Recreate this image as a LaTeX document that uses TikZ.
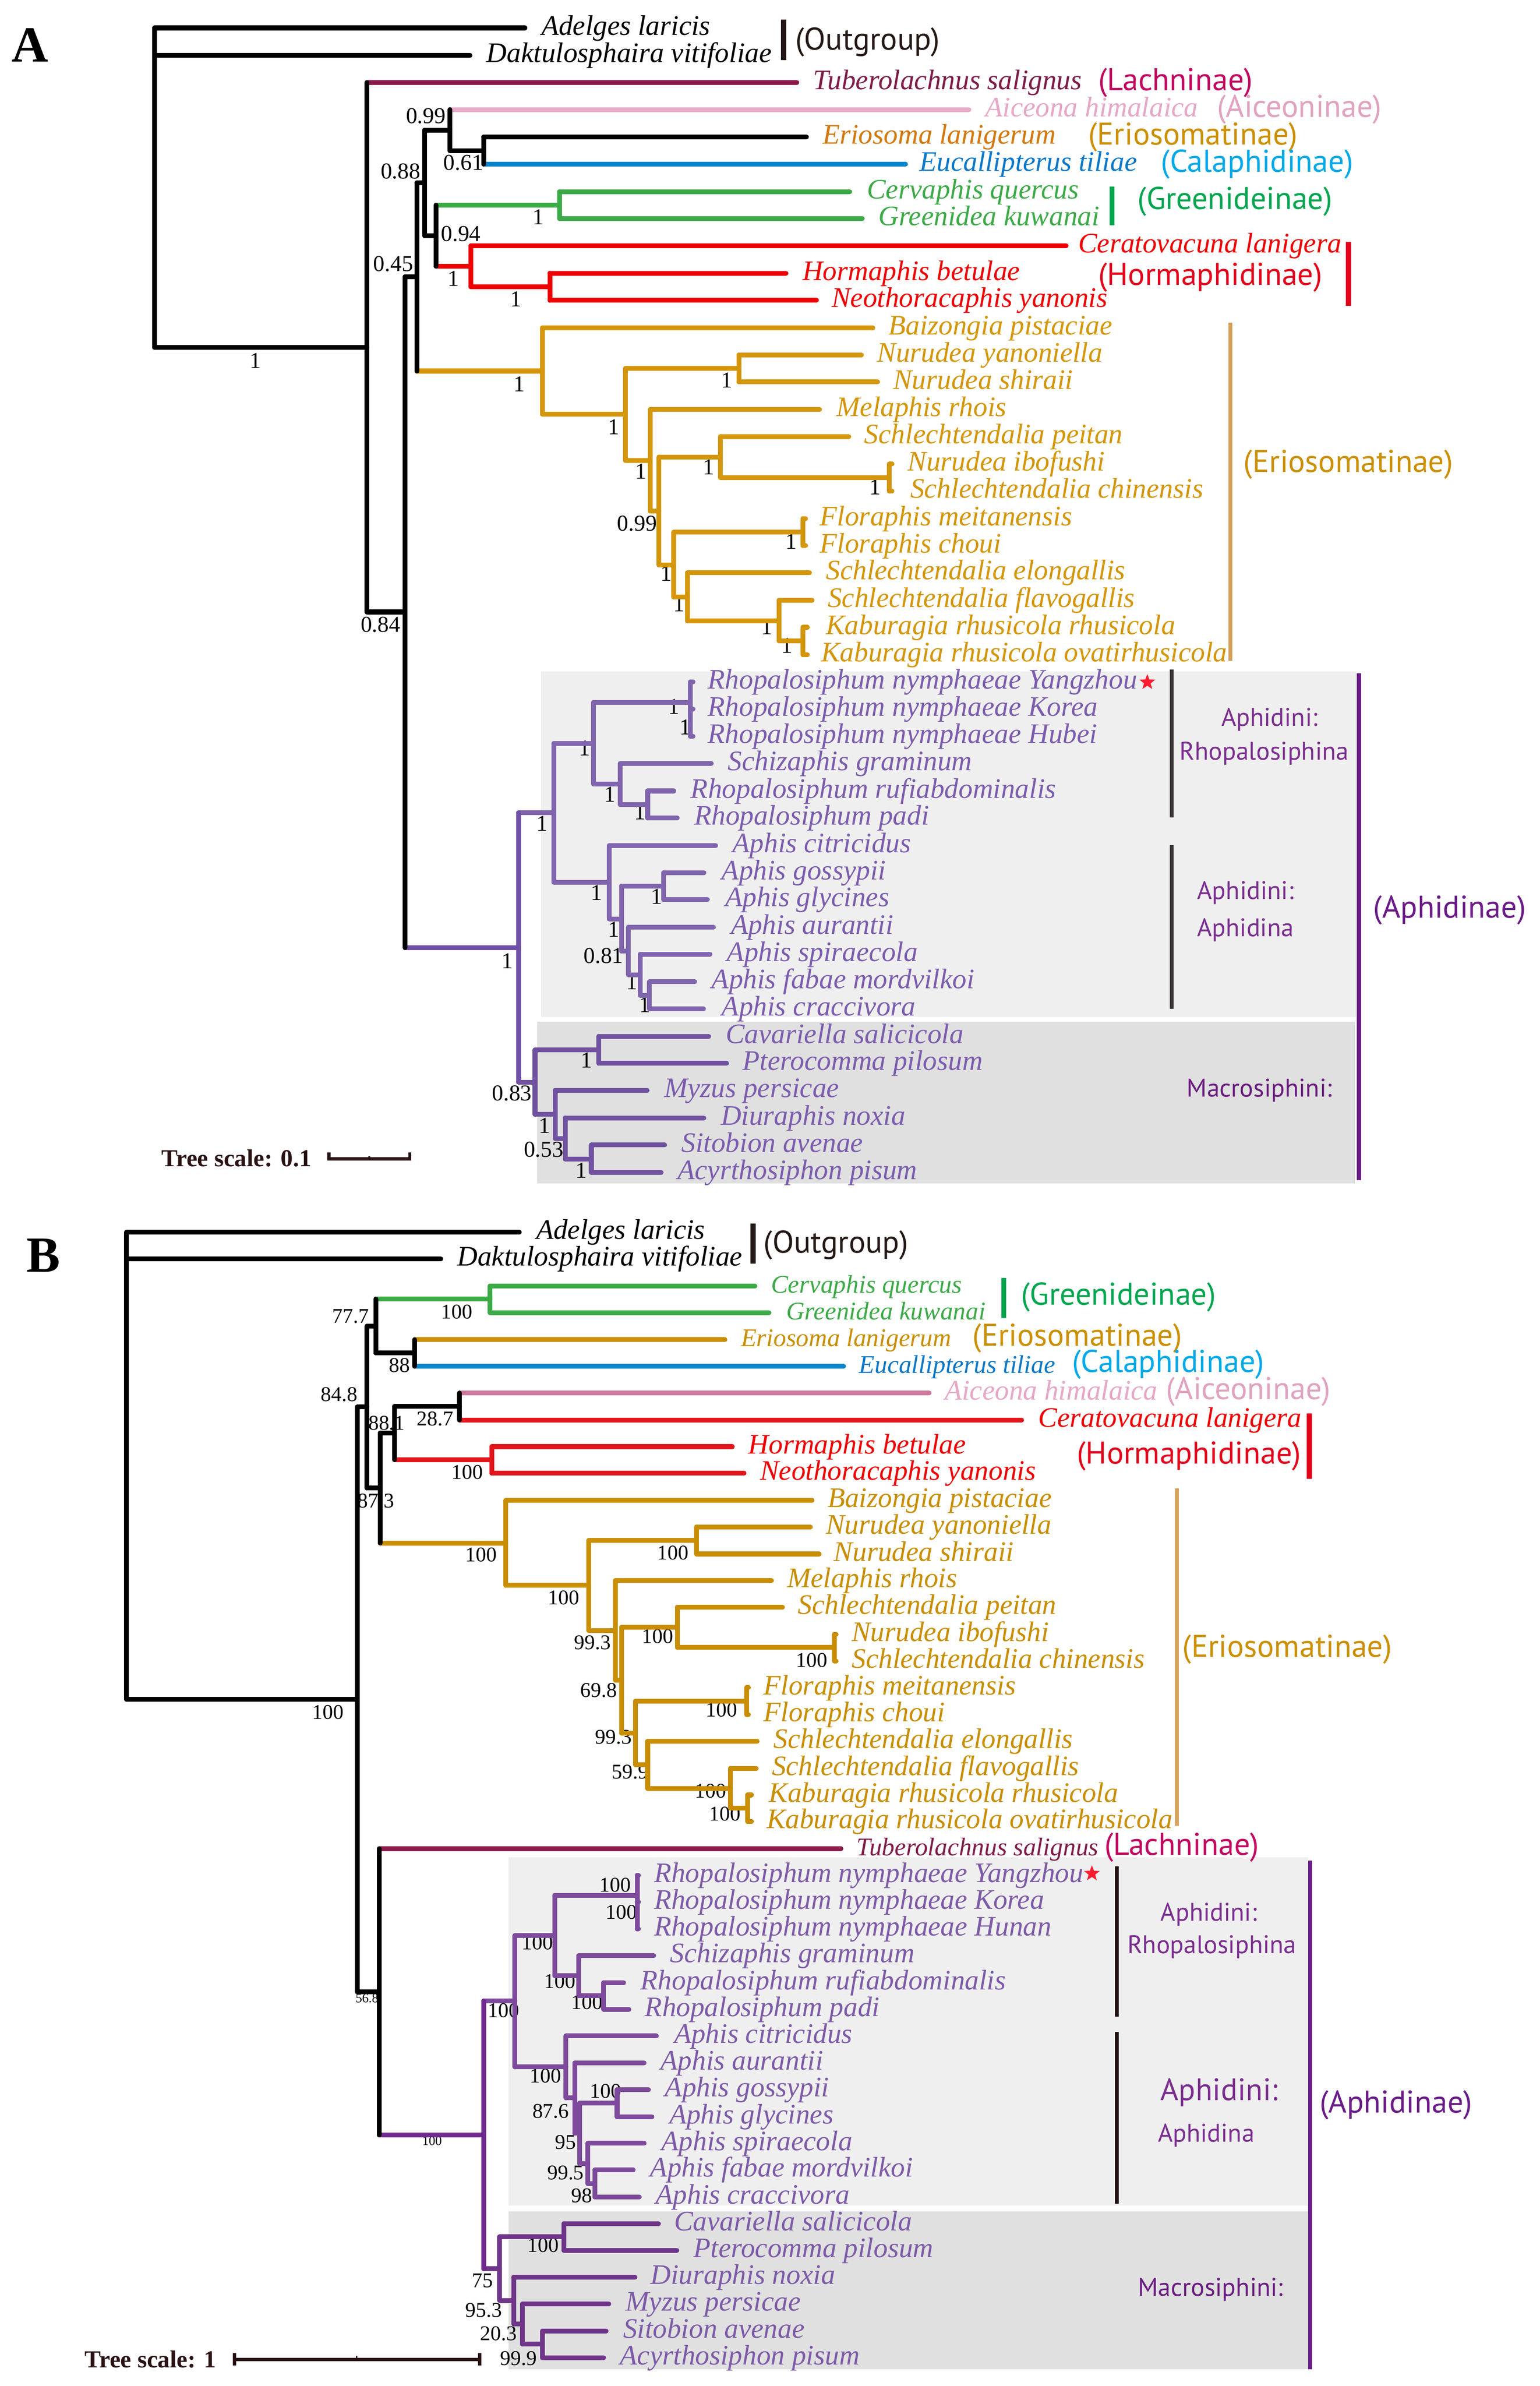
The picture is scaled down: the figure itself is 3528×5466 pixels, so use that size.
\documentclass[tikz,border=0pt]{standalone}
\usepackage{fontspec}
\setmainfont{Liberation Serif}
\newfontfamily\labfont{PT Sans}
\usetikzlibrary{shapes.geometric}
\definecolor{cOut}{HTML}{231815}
\definecolor{cLach}{HTML}{8A1A4A}
\definecolor{cLachT}{HTML}{7E1C48}
\definecolor{cLachL}{HTML}{C1075F}
\definecolor{cAicA}{HTML}{E7ABC6}
\definecolor{cAicB}{HTML}{CC7A9E}
\definecolor{cAicT}{HTML}{E6A8C6}
\definecolor{cAicL}{HTML}{E0A3BF}
\definecolor{cEriA}{HTML}{D4960A}
\definecolor{cEriB}{HTML}{C98E00}
\definecolor{cEriT}{HTML}{D4780C}
\definecolor{cEriL}{HTML}{CC8F00}
\definecolor{cEriBar}{HTML}{D6A05A}
\definecolor{cCal}{HTML}{0A85CC}
\definecolor{cCalT}{HTML}{0A78C8}
\definecolor{cCalL}{HTML}{00A9E8}
\definecolor{cGre}{HTML}{3DAA48}
\definecolor{cGreL}{HTML}{00A64F}
\definecolor{cHor}{HTML}{EE0000}
\definecolor{cHorB}{HTML}{E3161D}
\definecolor{cHorL}{HTML}{E3001B}
\definecolor{cAphA}{HTML}{7150A8}
\definecolor{cAphA2}{HTML}{8064AE}
\definecolor{cAphA3}{HTML}{7052A0}
\definecolor{cAphB}{HTML}{70298F}
\definecolor{cAphB2}{HTML}{7E4A9C}
\definecolor{cAphB3}{HTML}{6E3589}
\definecolor{cAphT}{HTML}{7B5CAE}
\definecolor{cAphTB}{HTML}{7D5AA8}
\definecolor{cTribe}{HTML}{7B2D90}
\definecolor{cMacro}{HTML}{6A1A80}
\definecolor{cAphL}{HTML}{6A1B87}
\definecolor{cSub}{HTML}{3D3535}
\definecolor{cSubB}{HTML}{201010}
\definecolor{boxL}{HTML}{EFEFEF}
\definecolor{boxD}{HTML}{E0E0E0}
\definecolor{cStar}{HTML}{FF1A2E}
\definecolor{cScale}{HTML}{2A1212}
% two-child node: vertical colour, child colours, parent, child1, child2
\newcommand{\Tn}[6]{%
  \draw[br,#2] (#4 |- #5) -- (#5);
  \draw[br,#3] (#4 |- #6) -- (#6);
  \draw[br,#1] (#4 |- #5) -- (#4 |- #6);}
\newcommand{\Sp}[5]{\node[sp,text=#2] (#1) at (#3,#4) {#5};}
\newcommand{\Ss}[5]{\node[sp,spsmall,text=#2] (#1) at (#3,#4) {#5};}
\newcommand{\Su}[4]{\node[supA] (#1) at (#2,#3) {#4};}
\newcommand{\Sb}[4]{\node[supB] (#1) at (#2,#3) {#4};}
\begin{document}
\begin{tikzpicture}[x=0.25pt,y=-0.25pt,
  br/.style={line width=2.75pt,line cap=round},
  sp/.style={anchor=mid west,inner sep=0pt,yshift=-1.2pt,font=\itshape\fontsize{16.2}{19}\selectfont},
  spsmall/.style={font=\itshape\fontsize{14.6}{17}\selectfont},
  supA/.style={inner sep=0pt,font=\fontsize{13}{13}\selectfont},
  supB/.style={inner sep=0pt,font=\fontsize{12}{12}\selectfont},
  supS/.style={inner sep=0pt,font=\fontsize{7.5}{7.5}\selectfont},
  grp/.style={anchor=west,inner sep=0pt,font=\labfont\fontsize{18}{18}\selectfont},
  tribe/.style={inner sep=0pt,font=\labfont\fontsize{14.6}{15}\selectfont},
  gbar/.style={line width=2.6pt},
  sbar/.style={line width=2pt},
  scl/.style={line width=1.8pt,draw=cScale},
  starmark/.style={shape=star,star points=5,star point ratio=2.4,fill=cStar,draw=none,inner sep=0pt,minimum size=9.5pt}]
\useasboundingbox (0,0) rectangle (3528,5466);
\fill[white] (0,0) rectangle (3528,5466);

% ================= PANEL A =================
\node[inner sep=0pt,font=\bfseries\fontsize{29}{29}\selectfont] (labA) at (69,103) {A};
\fill[boxL] (1240,1538) rectangle (3108,2330);
\fill[boxD] (1231,2340) rectangle (3105,2711);

% support values A
\Su{a1}{976}{266}{0.99}
\Su{a2}{1062}{373}{0.61}
\Su{a3}{918}{393}{0.88}
\Su{a4}{1056}{536}{0.94}
\Su{a5}{901}{605}{0.45}
\Su{a6}{1234}{497}{1}
\Su{a7}{1039}{638}{1}
\Su{a8}{1182}{685}{1}
\Su{a9}{585}{826}{1}
\Su{a10}{1190}{880}{1}
\Su{a11}{1406}{978}{1}
\Su{a12}{1665}{871}{1}
\Su{a13}{1469}{1080}{1}
\Su{a14}{1624}{1070}{1}
\Su{a15}{2005}{1116}{1}
\Su{a16}{1460}{1199}{0.99}
\Su{a17}{1813}{1241}{1}
\Su{a18}{1527}{1314}{1}
\Su{a19}{1556}{1384}{1}
\Su{a20}{1757}{1436}{1}
\Su{a21}{1803}{1479}{1}
\Su{a22}{872}{1431}{0.84}
\Su{a23}{1544}{1619}{1}
\Su{a24}{1570}{1666}{1}
\Su{a25}{1340}{1714}{1}
\Su{a26}{1398}{1820}{1}
\Su{a27}{1466}{1860}{1}
\Su{a28}{1242}{1887}{1}
\Su{a29}{1367}{2045}{1}
\Su{a30}{1505}{2054}{1}
\Su{a31}{1406}{2129}{1}
\Su{a32}{1383}{2190}{0.81}
\Su{a33}{1162}{2201}{1}
\Su{a34}{1448}{2250}{1}
\Su{a35}{1477}{2302}{1}
\Su{a36}{1344}{2429}{1}
\Su{a37}{1173}{2505}{0.83}
\Su{a38}{1248}{2579}{1}
\Su{a39}{1246}{2634}{0.53}
\Su{a40}{1332}{2681}{1}

% internal nodes A
\coordinate (rA) at (354,796);
\coordinate (nA1) at (841,796);
\coordinate (nA2) at (928,1402);
\coordinate (nA3) at (955,634);
\coordinate (nA4) at (973,419);
\coordinate (nA5) at (1031,298);
\coordinate (nA7) at (1108,345);
\coordinate (nA6) at (999,540);
\coordinate (nGre) at (1282,470);
\coordinate (nHor) at (1079,610);
\coordinate (nHor2) at (1260,657);
\coordinate (nEri) at (1243,850);
\coordinate (nE2) at (1433,949);
\coordinate (nE3) at (1693,844);
\coordinate (nE4) at (1490,1055);
\coordinate (nE5) at (1510,1171);
\coordinate (nE6) at (1651,1047);
\coordinate (nE8) at (2038,1094);
\coordinate (nE7) at (1544,1294);
\coordinate (nE9) at (1840,1219);
\coordinate (nE10) at (1575,1368);
\coordinate (nE11) at (1785,1422);
\coordinate (nE12) at (1840,1468);
\coordinate (nAph) at (1188,2171);
\coordinate (nR) at (1269,1862);
\coordinate (nR1) at (1360,1703);
\coordinate (nRn) at (1582,1609);
\coordinate (nRn2) at (1582,1655);
\coordinate (nR2) at (1421,1796);
\coordinate (nR3) at (1484,1843);
\coordinate (nAa) at (1396,2021);
\coordinate (nA8) at (1424,2105);
\coordinate (nA9) at (1521,2030);
\coordinate (nA10) at (1440,2179);
\coordinate (nA11) at (1467,2233);
\coordinate (nA12) at (1488,2280);
\coordinate (nM) at (1226,2479);
\coordinate (nM1) at (1372,2405);
\coordinate (nM2) at (1272,2553);
\coordinate (nM3) at (1295,2608);
\coordinate (nM4) at (1355,2655);
% tips A
\coordinate (tA0) at (1203,64);
\coordinate (tA1) at (1077,127);
\coordinate (tA2) at (1826,189);
\coordinate (tA3) at (2220,251);
\coordinate (tA4) at (1848,314);
\coordinate (tA5) at (2075,376);
\coordinate (tA6) at (1947,439);
\coordinate (tA7) at (1976,501);
\coordinate (tA8) at (2443,563);
\coordinate (tA9) at (1801,626);
\coordinate (tA10) at (1871,688);
\coordinate (tA11) at (2000,751);
\coordinate (tA12) at (1974,813);
\coordinate (tA13) at (2011,875);
\coordinate (tA14) at (1878,938);
\coordinate (tA15) at (1945,1000);
\coordinate (tA16) at (2044,1063);
\coordinate (tA17) at (2044,1125);
\coordinate (tA18) at (1846,1188);
\coordinate (tA19) at (1846,1250);
\coordinate (tA20) at (1855,1312);
\coordinate (tA21) at (1861,1375);
\coordinate (tA22) at (1850,1437);
\coordinate (tA23) at (1850,1500);
\coordinate (tA24) at (1588,1562);
\coordinate (tA25) at (1588,1624);
\coordinate (tA26) at (1588,1687);
\coordinate (tA27) at (1630,1749);
\coordinate (tA28) at (1544,1812);
\coordinate (tA29) at (1552,1874);
\coordinate (tA30) at (1640,1937);
\coordinate (tA31) at (1613,1999);
\coordinate (tA32) at (1621,2061);
\coordinate (tA33) at (1635,2124);
\coordinate (tA34) at (1627,2186);
\coordinate (tA35) at (1592,2249);
\coordinate (tA36) at (1612,2311);
\coordinate (tA37) at (1624,2374);
\coordinate (tA38) at (1665,2436);
\coordinate (tA39) at (1483,2498);
\coordinate (tA40) at (1613,2561);
\coordinate (tA41) at (1523,2623);
\coordinate (tA42) at (1515,2686);

% branches A
\draw[br,black] (rA |- tA0) -- (tA0);
\draw[br,black] (rA |- tA1) -- (tA1);
\draw[br,black] (rA) -- (nA1);
\draw[br,black] (rA |- tA0) -- (rA);
\Tn{black}{cLach}{black}{nA1}{tA2}{nA2}
\Tn{black}{black}{cAphA}{nA2}{nA3}{nAph}
\Tn{black}{black}{cEriA}{nA3}{nA4}{nEri}
\Tn{black}{black}{black}{nA4}{nA5}{nA6}
\Tn{black}{cAicA}{black}{nA5}{tA3}{nA7}
\Tn{black}{black}{cCal}{nA7}{tA4}{tA5}
\Tn{black}{cGre}{cHor}{nA6}{nGre}{nHor}
\Tn{cGre}{cGre}{cGre}{nGre}{tA6}{tA7}
\Tn{cHor}{cHor}{cHor}{nHor}{tA8}{nHor2}
\Tn{cHor}{cHor}{cHor}{nHor2}{tA9}{tA10}
\Tn{cEriA}{cEriA}{cEriA}{nEri}{tA11}{nE2}
\Tn{cEriA}{cEriA}{cEriA}{nE2}{nE3}{nE4}
\Tn{cEriA}{cEriA}{cEriA}{nE3}{tA12}{tA13}
\Tn{cEriA}{cEriA}{cEriA}{nE4}{tA14}{nE5}
\Tn{cEriA}{cEriA}{cEriA}{nE5}{nE6}{nE7}
\Tn{cEriA}{cEriA}{cEriA}{nE6}{tA15}{nE8}
\Tn{cEriA}{cEriA}{cEriA}{nE8}{tA16}{tA17}
\Tn{cEriA}{cEriA}{cEriA}{nE7}{nE9}{nE10}
\Tn{cEriA}{cEriA}{cEriA}{nE9}{tA18}{tA19}
\Tn{cEriA}{cEriA}{cEriA}{nE10}{tA20}{nE11}
\Tn{cEriA}{cEriA}{cEriA}{nE11}{tA21}{nE12}
\Tn{cEriA}{cEriA}{cEriA}{nE12}{tA22}{tA23}
\Tn{cAphA}{cAphA2}{cAphA3}{nAph}{nR}{nM}
\Tn{cAphA2}{cAphA2}{cAphA2}{nR}{nR1}{nAa}
\Tn{cAphA2}{cAphA2}{cAphA2}{nR1}{nRn}{nR2}
\Tn{cAphA2}{cAphA2}{cAphA2}{nRn}{tA24}{nRn2}
\Tn{cAphA2}{cAphA2}{cAphA2}{nRn2}{tA25}{tA26}
\Tn{cAphA2}{cAphA2}{cAphA2}{nR2}{tA27}{nR3}
\Tn{cAphA2}{cAphA2}{cAphA2}{nR3}{tA28}{tA29}
\Tn{cAphA2}{cAphA2}{cAphA2}{nAa}{tA30}{nA8}
\Tn{cAphA2}{cAphA2}{cAphA2}{nA8}{nA9}{nA10}
\Tn{cAphA2}{cAphA2}{cAphA2}{nA9}{tA31}{tA32}
\Tn{cAphA2}{cAphA2}{cAphA2}{nA10}{tA33}{nA11}
\Tn{cAphA2}{cAphA2}{cAphA2}{nA11}{tA34}{nA12}
\Tn{cAphA2}{cAphA2}{cAphA2}{nA12}{tA35}{tA36}
\Tn{cAphA3}{cAphA3}{cAphA3}{nM}{nM1}{nM2}
\Tn{cAphA3}{cAphA3}{cAphA3}{nM1}{tA37}{tA38}
\Tn{cAphA3}{cAphA3}{cAphA3}{nM2}{tA39}{nM3}
\Tn{cAphA3}{cAphA3}{cAphA3}{nM3}{tA40}{nM4}
\Tn{cAphA3}{cAphA3}{cAphA3}{nM4}{tA41}{tA42}

% species A
\Sp{sA0}{black}{1240}{66}{Adelges laricis}
\Sp{sA1}{black}{1114}{129}{Daktulosphaira vitifoliae}
\Sp{sA2}{cLachT}{1863}{191}{Tuberolachnus salignus}
\Sp{sA3}{cAicT}{2257}{253}{Aiceona himalaica}
\Sp{sA4}{cEriT}{1884}{316}{Eriosoma lanigerum}
\Sp{sA5}{cCalT}{2106}{378}{Eucallipterus tiliae}
\Sp{sA6}{cGre}{1986}{441}{Cervaphis quercus}
\Sp{sA7}{cGre}{2012}{503}{Greenidea kuwanai}
\Sp{sA8}{cHor}{2470}{565}{Ceratovacuna lanigera}
\Sp{sA9}{cHor}{1838}{628}{Hormaphis betulae}
\Sp{sA10}{cHor}{1905}{690}{Neothoracaphis yanonis}
\Sp{sA11}{cEriA}{2035}{753}{Baizongia pistaciae}
\Sp{sA12}{cEriA}{2009}{815}{Nurudea yanoniella}
\Sp{sA13}{cEriA}{2046}{877}{Nurudea shiraii}
\Sp{sA14}{cEriA}{1916}{940}{Melaphis rhois}
\Sp{sA15}{cEriA}{1980}{1002}{Schlechtendalia peitan}
\Sp{sA16}{cEriA}{2079}{1065}{Nurudea ibofushi}
\Sp{sA17}{cEriA}{2085}{1127}{Schlechtendalia chinensis}
\Sp{sA18}{cEriA}{1878}{1190}{Floraphis meitanensis}
\Sp{sA19}{cEriA}{1878}{1252}{Floraphis choui}
\Sp{sA20}{cEriA}{1892}{1314}{Schlechtendalia elongallis}
\Sp{sA21}{cEriA}{1896}{1377}{Schlechtendalia flavogallis}
\Sp{sA22}{cEriA}{1892}{1439}{Kaburagia rhusicola rhusicola}
\Sp{sA23}{cEriA}{1881}{1502}{Kaburagia rhusicola ovatirhusicola}
\Sp{sA24}{cAphT}{1621}{1564}{Rhopalosiphum nymphaeae Yangzhou}
\Sp{sA25}{cAphT}{1621}{1626}{Rhopalosiphum nymphaeae Korea}
\Sp{sA26}{cAphT}{1621}{1689}{Rhopalosiphum nymphaeae Hubei}
\Sp{sA27}{cAphT}{1667}{1751}{Schizaphis graminum}
\Sp{sA28}{cAphT}{1582}{1814}{Rhopalosiphum rufiabdominalis}
\Sp{sA29}{cAphT}{1590}{1876}{Rhopalosiphum padi}
\Sp{sA30}{cAphT}{1678}{1939}{Aphis citricidus}
\Sp{sA31}{cAphT}{1653}{2001}{Aphis gossypii}
\Sp{sA32}{cAphT}{1661}{2063}{Aphis glycines}
\Sp{sA33}{cAphT}{1674}{2126}{Aphis aurantii}
\Sp{sA34}{cAphT}{1665}{2188}{Aphis spiraecola}
\Sp{sA35}{cAphT}{1630}{2251}{Aphis fabae mordvilkoi}
\Sp{sA36}{cAphT}{1653}{2313}{Aphis craccivora}
\Sp{sA37}{cAphT}{1662}{2376}{Cavariella salicicola}
\Sp{sA38}{cAphT}{1701}{2438}{Pterocomma pilosum}
\Sp{sA39}{cAphT}{1521}{2500}{Myzus persicae}
\Sp{sA40}{cAphT}{1651}{2563}{Diuraphis noxia}
\Sp{sA41}{cAphT}{1561}{2625}{Sitobion avenae}
\Sp{sA42}{cAphT}{1552}{2688}{Acyrthosiphon pisum}
\node[starmark] (starA) at (2629,1563) {};

% groups A
\draw[gbar,cOut,line width=3pt] (1796,45) -- (1796,138);
\node[grp,text=cOut] (gOutA) at (1822,96) {(Outgroup)};
\node[grp,text=cLachL] (gLachA) at (2516,189) {(Lachninae)};
\node[grp,text=cAicL] (gAicA) at (2788,251) {(Aiceoninae)};
\node[grp,text=cEriL] (gEri1A) at (2493,314) {(Eriosomatinae)};
\node[grp,text=cCalL] (gCalA) at (2660,376) {(Calaphidinae)};
\draw[gbar,cGreL] (2548,427) -- (2548,516);
\node[grp,text=cGreL] (gGreA) at (2606,462) {(Greenideinae)};
\draw[gbar,cHorL,line width=3pt] (3090,554) -- (3090,701);
\node[grp,text=cHorL] (gHorA) at (2516,636) {(Hormaphidinae)};
\draw[gbar,cEriBar,line width=2.2pt] (2819,739) -- (2819,1514);
\node[grp,text=cEriL] (gEri2A) at (2849,1064) {(Eriosomatinae)};
\draw[sbar,cSub] (2685,1534) -- (2685,1873);
\node[tribe,text=cTribe] (trA1) at (2909,1648) {Aphidini:};
\node[tribe,text=cTribe] (trA2) at (2897,1726) {Rhopalosiphina};
\draw[sbar,cSub] (2685,1936) -- (2685,2311);
\node[tribe,text=cTribe] (trA3) at (2854,2045) {Aphidini:};
\node[tribe,text=cTribe] (trA4) at (2854,2130) {Aphidina};
\node[tribe,text=cMacro] (trA5) at (2886,2498) {Macrosiphini:};
\draw[gbar,cAphL,line width=2.3pt] (3114,1543) -- (3114,2704);
\node[grp,text=cAphL] (gAphA) at (3146,2085) {(Aphidinae)};
% scale A
\node[inner sep=0pt,text=cScale,font=\bfseries\fontsize{14}{14}\selectfont] (scA) at (542,2653) {Tree scale: 0.1};
\draw[scl] (754,2640) -- (754,2655) -- (939,2655) -- (939,2640);
\draw[scl,line width=1pt] (846,2655) -- (846,2649);

% ================= PANEL B =================
\node[inner sep=0pt,font=\bfseries\fontsize{29}{29}\selectfont] (labB) at (99,2876) {B};
\fill[boxL] (1165,4255) rectangle (2997,5053);
\fill[boxD] (1165,5066) rectangle (2997,5428);

% support values B
\Sb{b1}{752}{3922}{100}
\Sb{b2}{777}{3195}{84.8}
\Sb{b3}{803}{3015}{77.7}
\Sb{b4}{1047}{3005}{100}
\Sb{b5}{916}{3128}{88}
\Sb{b6}{861}{3438}{87.3}
\Sb{b7}{886}{3260}{88.1}
\Sb{b8}{997}{3250}{28.7}
\Sb{b9}{1071}{3373}{100}
\Sb{b10}{1102}{3562}{100}
\Sb{b11}{1292}{3660}{100}
\Sb{b12}{1542}{3557}{100}
\Sb{b13}{1358}{3763}{99.3}
\Sb{b14}{1372}{3872}{69.8}
\Sb{b15}{1507}{3749}{100}
\Sb{b16}{1860}{3803}{100}
\Sb{b17}{1406}{3979}{99.3}
\Sb{b18}{1653}{3917}{100}
\Sb{b19}{1444}{4059}{59.9}
\Sb{b20}{1628}{4103}{100}
\Sb{b21}{1661}{4155}{100}
\node[supS] (b22) at (841,4578) {56.8};
\node[supS] (b23) at (990,4905) {100};
\Sb{b24}{1154}{4606}{100}
\Sb{b25}{1231}{4450}{100}
\Sb{b26}{1410}{4318}{100}
\Sb{b27}{1424}{4380}{100}
\Sb{b28}{1283}{4539}{100}
\Sb{b29}{1345}{4587}{100}
\Sb{b30}{1250}{4756}{100}
\Sb{b31}{1262}{4836}{87.6}
\Sb{b32}{1296}{4907}{95}
\Sb{b33}{1388}{4790}{100}
\Sb{b34}{1296}{4978}{99.5}
\Sb{b35}{1333}{5030}{98}
\Sb{b36}{1106}{5225}{75}
\Sb{b37}{1245}{5144}{100}
\Sb{b38}{1108}{5292}{95.3}
\Sb{b39}{1142}{5346}{20.3}
\Sb{b40}{1188}{5403}{99.9}

% internal nodes B
\coordinate (rB) at (290,3893);
\coordinate (nB1) at (819,3893);
\coordinate (nB2) at (841,3223);
\coordinate (nB4) at (861,3038);
\coordinate (nGreB) at (1123,2976);
\coordinate (nB6) at (950,3099);
\coordinate (nB5) at (871,3409);
\coordinate (nB7) at (904,3283);
\coordinate (nB8) at (1053,3222);
\coordinate (nHorB) at (1127,3344);
\coordinate (nEriB) at (1159,3535);
\coordinate (nEB2) at (1349,3632);
\coordinate (nEB3) at (1596,3529);
\coordinate (nEB4) at (1410,3735);
\coordinate (nEB5) at (1424,3849);
\coordinate (nEB6) at (1552,3728);
\coordinate (nEB8) at (1912,3774);
\coordinate (nEB7) at (1456,3970);
\coordinate (nEB9) at (1711,3897);
\coordinate (nEB10) at (1484,4043);
\coordinate (nEB11) at (1674,4097);
\coordinate (nEB12) at (1713,4142);
\coordinate (nB3) at (869,4563);
\coordinate (nAphB) at (1108,4891);
\coordinate (nRB) at (1180,4584);
\coordinate (nRB1) at (1271,4434);
\coordinate (nRnB) at (1460,4342);
\coordinate (nRnB2) at (1460,4388);
\coordinate (nRB2) at (1326,4526);
\coordinate (nRB3) at (1383,4572);
\coordinate (nAB) at (1297,4735);
\coordinate (nAB2) at (1317,4806);
\coordinate (nAB3) at (1328,4887);
\coordinate (nAB4) at (1414,4818);
\coordinate (nAB5) at (1347,4956);
\coordinate (nAB6) at (1363,5002);
\coordinate (nMB) at (1145,5197);
\coordinate (nMB1) at (1292,5124);
\coordinate (nMB2) at (1177,5270);
\coordinate (nMB3) at (1197,5324);
\coordinate (nMB4) at (1243,5370);
% tips B
\coordinate (tB0) at (1190,2823);
\coordinate (tB1) at (1010,2884);
\coordinate (tB2) at (1730,2946);
\coordinate (tB3) at (1762,3007);
\coordinate (tB4) at (1661,3069);
\coordinate (tB5) at (1933,3130);
\coordinate (tB6) at (2129,3191);
\coordinate (tB7) at (2341,3253);
\coordinate (tB8) at (1678,3314);
\coordinate (tB9) at (1705,3375);
\coordinate (tB10) at (1861,3437);
\coordinate (tB11) at (1857,3498);
\coordinate (tB12) at (1877,3560);
\coordinate (tB13) at (1768,3621);
\coordinate (tB14) at (1793,3682);
\coordinate (tB15) at (1916,3744);
\coordinate (tB16) at (1916,3805);
\coordinate (tB17) at (1715,3866);
\coordinate (tB18) at (1715,3928);
\coordinate (tB19) at (1735,3989);
\coordinate (tB20) at (1733,4051);
\coordinate (tB21) at (1722,4112);
\coordinate (tB22) at (1722,4173);
\coordinate (tB23) at (1927,4235);
\coordinate (tB24) at (1463,4296);
\coordinate (tB25) at (1463,4357);
\coordinate (tB26) at (1463,4419);
\coordinate (tB27) at (1498,4480);
\coordinate (tB28) at (1429,4542);
\coordinate (tB29) at (1441,4603);
\coordinate (tB30) at (1504,4664);
\coordinate (tB31) at (1476,4726);
\coordinate (tB32) at (1486,4787);
\coordinate (tB33) at (1494,4849);
\coordinate (tB34) at (1476,4910);
\coordinate (tB35) at (1451,4971);
\coordinate (tB36) at (1465,5033);
\coordinate (tB37) at (1509,5094);
\coordinate (tB38) at (1551,5155);
\coordinate (tB39) at (1455,5217);
\coordinate (tB40) at (1395,5278);
\coordinate (tB41) at (1389,5340);
\coordinate (tB42) at (1383,5401);

% branches B
\draw[br,black] (rB |- tB0) -- (tB0);
\draw[br,black] (rB |- tB1) -- (tB1);
\draw[br,black] (rB) -- (nB1);
\draw[br,black] (rB |- tB0) -- (rB);
\Tn{black}{black}{black}{nB1}{nB2}{nB3}
\Tn{black}{black}{black}{nB2}{nB4}{nB5}
\Tn{black}{cGre}{black}{nB4}{nGreB}{nB6}
\Tn{cGre}{cGre}{cGre}{nGreB}{tB2}{tB3}
\Tn{black}{cEriB}{cCal}{nB6}{tB4}{tB5}
\Tn{black}{black}{cEriB}{nB5}{nB7}{nEriB}
\Tn{black}{black}{cHorB}{nB7}{nB8}{nHorB}
\Tn{black}{cAicB}{cHorB}{nB8}{tB6}{tB7}
\Tn{cHorB}{cHorB}{cHorB}{nHorB}{tB8}{tB9}
\Tn{cEriB}{cEriB}{cEriB}{nEriB}{tB10}{nEB2}
\Tn{cEriB}{cEriB}{cEriB}{nEB2}{nEB3}{nEB4}
\Tn{cEriB}{cEriB}{cEriB}{nEB3}{tB11}{tB12}
\Tn{cEriB}{cEriB}{cEriB}{nEB4}{tB13}{nEB5}
\Tn{cEriB}{cEriB}{cEriB}{nEB5}{nEB6}{nEB7}
\Tn{cEriB}{cEriB}{cEriB}{nEB6}{tB14}{nEB8}
\Tn{cEriB}{cEriB}{cEriB}{nEB8}{tB15}{tB16}
\Tn{cEriB}{cEriB}{cEriB}{nEB7}{nEB9}{nEB10}
\Tn{cEriB}{cEriB}{cEriB}{nEB9}{tB17}{tB18}
\Tn{cEriB}{cEriB}{cEriB}{nEB10}{tB19}{nEB11}
\Tn{cEriB}{cEriB}{cEriB}{nEB11}{tB20}{nEB12}
\Tn{cEriB}{cEriB}{cEriB}{nEB12}{tB21}{tB22}
\Tn{black}{cLach}{cAphB}{nB3}{tB23}{nAphB}
\Tn{cAphB}{cAphB2}{cAphB3}{nAphB}{nRB}{nMB}
\Tn{cAphB2}{cAphB2}{cAphB2}{nRB}{nRB1}{nAB}
\Tn{cAphB2}{cAphB2}{cAphB2}{nRB1}{nRnB}{nRB2}
\Tn{cAphB2}{cAphB2}{cAphB2}{nRnB}{tB24}{nRnB2}
\Tn{cAphB2}{cAphB2}{cAphB2}{nRnB2}{tB25}{tB26}
\Tn{cAphB2}{cAphB2}{cAphB2}{nRB2}{tB27}{nRB3}
\Tn{cAphB2}{cAphB2}{cAphB2}{nRB3}{tB28}{tB29}
\Tn{cAphB2}{cAphB2}{cAphB2}{nAB}{tB30}{nAB2}
\Tn{cAphB2}{cAphB2}{cAphB2}{nAB2}{tB31}{nAB3}
\Tn{cAphB2}{cAphB2}{cAphB2}{nAB3}{nAB4}{nAB5}
\Tn{cAphB2}{cAphB2}{cAphB2}{nAB4}{tB32}{tB33}
\Tn{cAphB2}{cAphB2}{cAphB2}{nAB5}{tB34}{nAB6}
\Tn{cAphB2}{cAphB2}{cAphB2}{nAB6}{tB35}{tB36}
\Tn{cAphB3}{cAphB3}{cAphB3}{nMB}{nMB1}{nMB2}
\Tn{cAphB3}{cAphB3}{cAphB3}{nMB1}{tB37}{tB38}
\Tn{cAphB3}{cAphB3}{cAphB3}{nMB2}{tB39}{nMB3}
\Tn{cAphB3}{cAphB3}{cAphB3}{nMB3}{tB40}{nMB4}
\Tn{cAphB3}{cAphB3}{cAphB3}{nMB4}{tB41}{tB42}

% species B
\Sp{sB0}{black}{1228}{2825}{Adelges laricis}
\Sp{sB1}{black}{1047}{2886}{Daktulosphaira vitifoliae}
\Ss{sB2}{cGre}{1766}{2948}{Cervaphis quercus}
\Ss{sB3}{cGre}{1801}{3009}{Greenidea kuwanai}
\Ss{sB4}{cEriB}{1697}{3071}{Eriosoma lanigerum}
\Ss{sB5}{cCalT}{1968}{3132}{Eucallipterus tiliae}
\Sp{sB6}{cAicT}{2164}{3193}{Aiceona himalaica}
\Sp{sB7}{cHor}{2379}{3255}{Ceratovacuna lanigera}
\Sp{sB8}{cHor}{1714}{3316}{Hormaphis betulae}
\Sp{sB9}{cHor}{1741}{3377}{Neothoracaphis yanonis}
\Sp{sB10}{cEriB}{1896}{3439}{Baizongia pistaciae}
\Sp{sB11}{cEriB}{1892}{3500}{Nurudea yanoniella}
\Sp{sB12}{cEriB}{1910}{3562}{Nurudea shiraii}
\Sp{sB13}{cEriB}{1803}{3623}{Melaphis rhois}
\Sp{sB14}{cEriB}{1828}{3684}{Schlechtendalia peitan}
\Sp{sB15}{cEriB}{1951}{3746}{Nurudea ibofushi}
\Sp{sB16}{cEriB}{1951}{3807}{Schlechtendalia chinensis}
\Sp{sB17}{cEriB}{1749}{3868}{Floraphis meitanensis}
\Sp{sB18}{cEriB}{1749}{3930}{Floraphis choui}
\Sp{sB19}{cEriB}{1772}{3991}{Schlechtendalia elongallis}
\Sp{sB20}{cEriB}{1768}{4053}{Schlechtendalia flavogallis}
\Sp{sB21}{cEriB}{1761}{4114}{Kaburagia rhusicola rhusicola}
\Sp{sB22}{cEriB}{1756}{4175}{Kaburagia rhusicola ovatirhusicola}
\Ss{sB23}{cLachT}{1962}{4237}{Tuberolachnus salignus}
\Sp{sB24}{cAphTB}{1498}{4298}{Rhopalosiphum nymphaeae Yangzhou}
\Sp{sB25}{cAphTB}{1498}{4359}{Rhopalosiphum nymphaeae Korea}
\Sp{sB26}{cAphTB}{1498}{4421}{Rhopalosiphum nymphaeae Hunan}
\Sp{sB27}{cAphTB}{1535}{4482}{Schizaphis graminum}
\Sp{sB28}{cAphTB}{1467}{4544}{Rhopalosiphum rufiabdominalis}
\Sp{sB29}{cAphTB}{1477}{4605}{Rhopalosiphum padi}
\Sp{sB30}{cAphTB}{1544}{4666}{Aphis citricidus}
\Sp{sB31}{cAphTB}{1513}{4728}{Aphis aurantii}
\Sp{sB32}{cAphTB}{1523}{4789}{Aphis gossypii}
\Sp{sB33}{cAphTB}{1533}{4851}{Aphis glycines}
\Sp{sB34}{cAphTB}{1515}{4912}{Aphis spiraecola}
\Sp{sB35}{cAphTB}{1489}{4973}{Aphis fabae mordvilkoi}
\Sp{sB36}{cAphTB}{1502}{5035}{Aphis craccivora}
\Sp{sB37}{cAphTB}{1544}{5096}{Cavariella salicicola}
\Sp{sB38}{cAphTB}{1588}{5157}{Pterocomma pilosum}
\Sp{sB39}{cAphTB}{1490}{5219}{Diuraphis noxia}
\Sp{sB40}{cAphTB}{1433}{5280}{Myzus persicae}
\Sp{sB41}{cAphTB}{1427}{5342}{Sitobion avenae}
\Sp{sB42}{cAphTB}{1420}{5403}{Acyrthosiphon pisum}
\node[starmark] (starB) at (2502,4292) {};

% groups B
\draw[gbar,cOut,line width=3pt] (1726,2803) -- (1726,2895);
\node[grp,text=cOut] (gOutB) at (1749,2853) {(Outgroup)};
\draw[gbar,cGreL] (2300,2928) -- (2300,3019);
\node[grp,text=cGreL] (gGreB) at (2339,2972) {(Greenideinae)};
\node[grp,text=cEriL] (gEri1B) at (2228,3066) {(Eriosomatinae)};
\node[grp,text=cCalL] (gCalB) at (2456,3126) {(Calaphidinae)};
\node[grp,text=cAicL] (gAicB) at (2671,3188) {(Aiceoninae)};
\draw[gbar,cHorL,line width=3pt] (3000,3238) -- (3000,3388);
\node[grp,text=cHorL] (gHorB) at (2467,3336) {(Hormaphidinae)};
\draw[gbar,cEriBar,line width=2.2pt] (2697,3410) -- (2697,4182);
\node[grp,text=cEriL] (gEri2B) at (2709,3778) {(Eriosomatinae)};
\node[grp,text=cLachL] (gLachB) at (2530,4232) {(Lachninae)};
\draw[sbar,cSubB] (2559,4276) -- (2559,4620);
\node[tribe,text=cTribe] (trB1) at (2770,4386) {Aphidini:};
\node[tribe,text=cTribe] (trB2) at (2777,4460) {Rhopalosiphina};
\draw[sbar,cSubB] (2559,4655) -- (2559,5048);
\node[tribe,text=cTribe,font=\labfont\fontsize{17.8}{18}\selectfont] (trB3) at (2794,4794) {Aphidini:};
\node[tribe,text=cTribe] (trB4) at (2764,4892) {Aphidina};
\node[tribe,text=cMacro] (trB5) at (2774,5245) {Macrosiphini:};
\draw[gbar,cAphL,line width=2.3pt] (3002,4262) -- (3002,5428);
\node[grp,text=cAphL] (gAphB) at (3023,4822) {(Aphidinae)};
% scale B
\node[inner sep=0pt,text=cScale,font=\bfseries\fontsize{14}{14}\selectfont] (scB) at (345,5405) {Tree scale: 1};
\draw[scl] (537,5405) -- (1099,5405);
\draw[scl] (537,5391) -- (537,5419);
\draw[scl] (1099,5391) -- (1099,5419);
\draw[scl,line width=1pt] (817,5405) -- (817,5397);
\end{tikzpicture}
\end{document}
